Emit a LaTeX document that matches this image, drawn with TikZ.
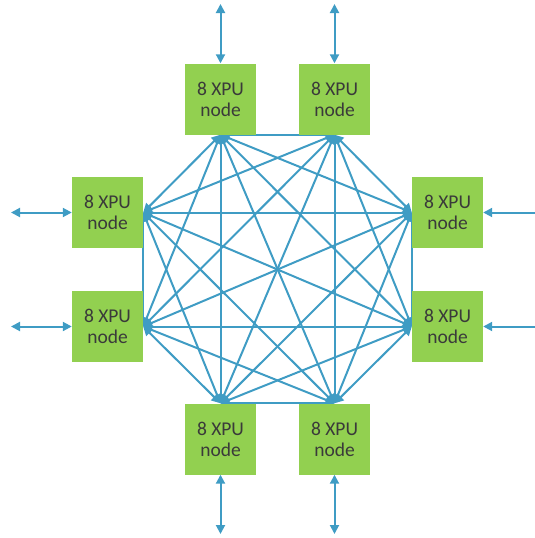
\documentclass[tikz,border=0pt]{standalone}
\usepackage{fontspec}
\setmainfont{Carlito}
\usepackage{tikz}
\usetikzlibrary{arrows.meta,backgrounds}
\definecolor{NodeGreen}{HTML}{92D050}
\definecolor{LinkBlue}{HTML}{3F9CC4}
\definecolor{LabelGray}{HTML}{3A3A3A}
\tikzset{
  xpu/.style={fill=NodeGreen, minimum size=71pt, inner sep=0pt, align=center,
    text=LabelGray, font=\fontsize{19.5}{21}\selectfont},
  link/.style={LinkBlue, line width=2pt, {Triangle[length=9pt,width=9pt]}-{Triangle[length=9pt,width=9pt]}},
  uplink/.style={LinkBlue, line width=2pt, -{Triangle[length=9pt,width=9pt]}}
}

\begin{document}
\begin{tikzpicture}[x=1pt, y=-1pt]
	\clip (0,0) rectangle (535,538);
	\node[xpu] (n1) at (220.5, 99) {8 XPU\\node};
	\node[xpu] (n2) at (334.5, 99) {8 XPU\\node};
	\node[xpu] (n3) at (447.5, 212.5) {8 XPU\\node};
	\node[xpu] (n4) at (447.5, 326.5) {8 XPU\\node};
	\node[xpu] (n5) at (334.5, 439) {8 XPU\\node};
	\node[xpu] (n6) at (220.5, 439) {8 XPU\\node};
	\node[xpu] (n7) at (107.5, 326.5) {8 XPU\\node};
	\node[xpu] (n8) at (107.5, 212.5) {8 XPU\\node};
	% ports of the mesh
	\coordinate (p1) at (n1.south);
	\coordinate (p2) at (n2.south);
	\coordinate (p3) at (n3.west);
	\coordinate (p4) at (n4.west);
	\coordinate (p5) at (n5.north);
	\coordinate (p6) at (n6.north);
	\coordinate (p7) at (n7.east);
	\coordinate (p8) at (n8.east);
	% outside ends
	\coordinate (o1) at (220.5, 4);
	\coordinate (o2) at (334.5, 4);
	\coordinate (o3) at (545, 212.5);
	\coordinate (o4) at (545, 326.5);
	\coordinate (o5) at (334.5, 534);
	\coordinate (o6) at (220.5, 534);
	\coordinate (o7) at (11, 326.5);
	\coordinate (o8) at (11, 212.5);
	\begin{scope}[on background layer]
		\foreach \i in {1,...,7} {
			\pgfmathtruncatemacro\s{\i+1}
			\foreach \j in {\s,...,8}
				\draw[link] (p\i) -- (p\j);
		}
	\end{scope}
	\draw[link] (o1) -- (n1.north);
	\draw[link] (o2) -- (n2.north);
	\draw[uplink] (o3) -- (n3.east);
	\draw[uplink] (o4) -- (n4.east);
	\draw[link] (n5.south) -- (o5);
	\draw[link] (n6.south) -- (o6);
	\draw[link] (o7) -- (n7.west);
	\draw[link] (o8) -- (n8.west);
\end{tikzpicture}
\end{document}
